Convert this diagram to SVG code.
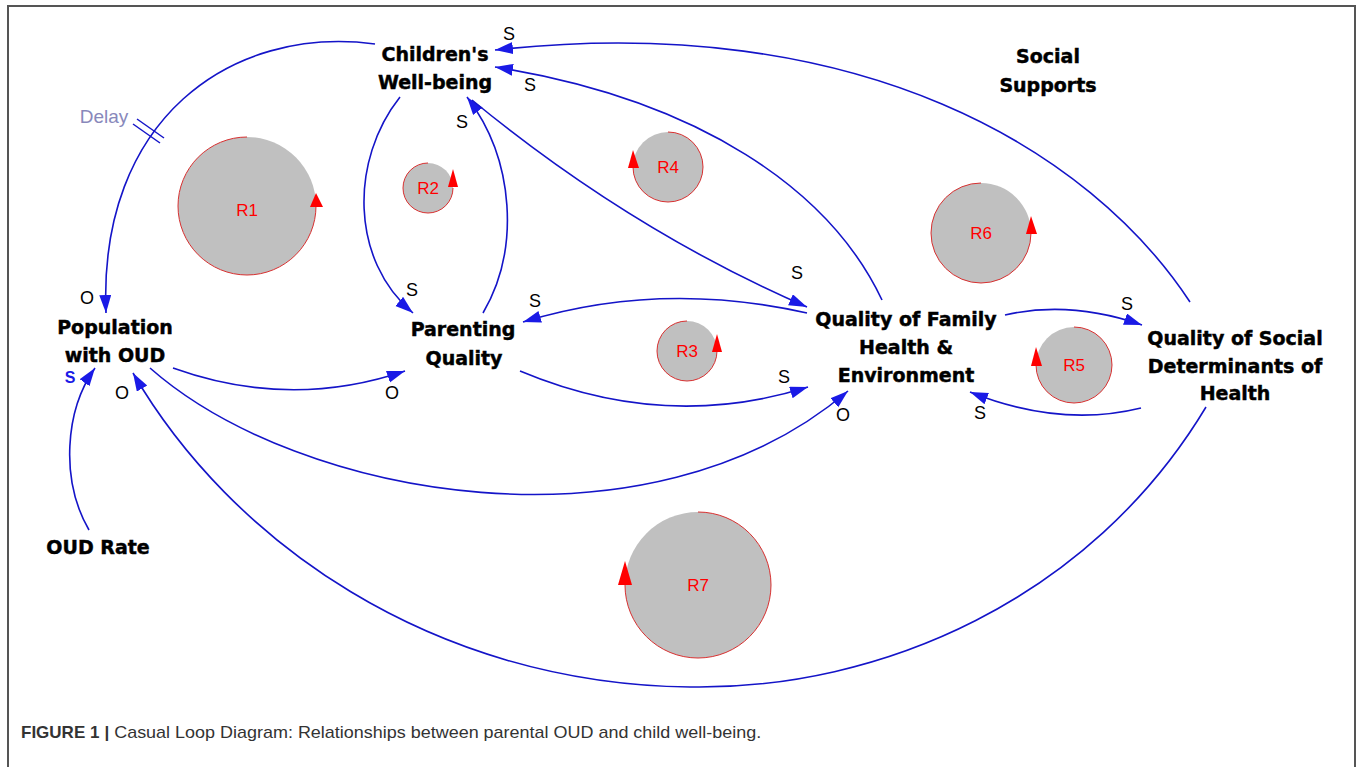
<svg xmlns="http://www.w3.org/2000/svg" width="1358" height="767" viewBox="0 0 1358 767">
<style>
.node{font-family:"DejaVu Sans","Liberation Sans",sans-serif;font-weight:bold;font-size:19px;fill:#000;stroke:#000;stroke-width:0.45px;text-anchor:middle}
.pol{font-family:"Liberation Sans",Arial,sans-serif;font-size:18px;fill:#000;text-anchor:middle}
.lnk{fill:none;stroke:#1414c8;stroke-width:1.6}
.loopc{fill:#c0c0c0;stroke:none}
.looparc{fill:none;stroke:#d83030;stroke-width:1}
.loopl{font-family:"Liberation Sans",Arial,sans-serif;font-size:17px;fill:#ff0000;text-anchor:middle}
.looparrow{fill:#ff0000}
</style>
<defs>
<marker id="ah" markerUnits="userSpaceOnUse" markerWidth="20" markerHeight="14" refX="18" refY="6" orient="auto">
<path d="M0,0 L18,6 L0,12 Z" fill="#1a1ae6"/>
</marker>
</defs>
<rect width="1358" height="767" fill="#fff"/>
<path d="M8,767 L8,6 L1355,6 L1355,767" fill="none" stroke="#555" stroke-width="2"/>

<g id="connectors">
<path class="lnk" marker-end="url(#ah)" d="M375,44 C230,25 98,120 106,313"/>
<line x1="133" y1="124" x2="160" y2="143" stroke="#1414c8" stroke-width="1.5"/>
<line x1="137" y1="119" x2="164" y2="138" stroke="#1414c8" stroke-width="1.5"/>
<path class="lnk" marker-end="url(#ah)" d="M400,97 C350,160 350,260 413,313"/>
<path class="lnk" marker-end="url(#ah)" d="M483,313 C520,250 515,160 467,97"/>
<path class="lnk" marker-end="url(#ah)" d="M472,100 Q630,230 807,307"/>
<path class="lnk" marker-end="url(#ah)" d="M882,300 C830,190 700,100 495,67"/>
<path class="lnk" marker-end="url(#ah)" d="M1190,302 C1090,150 860,10 495,50"/>
<path class="lnk" marker-end="url(#ah)" d="M173,368 Q290,410 405,371"/>
<path class="lnk" marker-end="url(#ah)" d="M520,371 Q665,432 808,387"/>
<path class="lnk" marker-end="url(#ah)" d="M807,313 Q660,280 523,322"/>
<path class="lnk" marker-end="url(#ah)" d="M150,368 C300,500 650,560 848,391"/>
<path class="lnk" marker-end="url(#ah)" d="M1206,407 C1090,600 880,690 690,687 C430,684 230,540 133,373"/>
<path class="lnk" marker-end="url(#ah)" d="M89,530 C60,480 65,410 95,368"/>
<path class="lnk" marker-end="url(#ah)" d="M1005,315 Q1070,300 1142,325"/>
<path class="lnk" marker-end="url(#ah)" d="M1141,408 Q1060,428 970,392"/>
<text x="104" y="123" font-family="Liberation Sans,Arial,sans-serif" font-size="19" fill="#8888bb" text-anchor="middle">Delay</text>
<text class="pol" x="509" y="40">S</text>
<text class="pol" x="530" y="91">S</text>
<text class="pol" x="462" y="128">S</text>
<text class="pol" x="797" y="279">S</text>
<text class="pol" x="412" y="296">S</text>
<text class="pol" x="535" y="307">S</text>
<text class="pol" x="392" y="399">O</text>
<text class="pol" x="784" y="383">S</text>
<text class="pol" x="843" y="421">O</text>
<text class="pol" x="1127" y="310">S</text>
<text class="pol" x="980" y="419">S</text>
<text class="pol" x="87" y="304">O</text>
<text class="pol" x="122" y="399">O</text>
<text x="70" y="383" font-family="Liberation Sans,Arial,sans-serif" font-weight="bold" font-size="16" fill="#1a1ae6" text-anchor="middle">S</text>
</g>

<g id="node-children">
<text class="node" x="435" y="61">Children's</text>
<text class="node" x="435" y="89">Well-being</text>
</g>
<g id="node-social-supports">
<text class="node" x="1048" y="63">Social</text>
<text class="node" x="1048" y="92">Supports</text>
</g>
<g id="node-population">
<text class="node" x="115" y="334">Population</text>
<text class="node" x="115" y="362">with OUD</text>
</g>
<g id="node-parenting">
<text class="node" x="463" y="336">Parenting</text>
<text class="node" x="464" y="365">Quality</text>
</g>
<g id="node-family">
<text class="node" x="906" y="326">Quality of Family</text>
<text class="node" x="906" y="354">Health &amp;</text>
<text class="node" x="906" y="382">Environment</text>
</g>
<g id="node-social-determinants">
<text class="node" x="1235" y="345">Quality of Social</text>
<text class="node" x="1235" y="373">Determinants of</text>
<text class="node" x="1235" y="400">Health</text>
</g>
<g id="node-oud-rate">
<text class="node" x="98" y="554">OUD Rate</text>
</g>

<g id="loop-R1">
<circle class="loopc" cx="247" cy="206" r="69"/>
<path class="looparc" d="M247,137 A69,69 0 1 0 316,206"/>
<path class="looparrow" d="M316,193 L310,207 L323,207 Z"/>
<text class="loopl" x="247" y="216">R1</text>
</g>
<g id="loop-R2">
<circle class="loopc" cx="428" cy="188" r="25"/>
<path class="looparc" d="M428,163 A25,25 0 1 0 453,188"/>
<path class="looparrow" d="M453,169 L448,187 L458,187 Z"/>
<text class="loopl" x="428" y="194">R2</text>
</g>
<g id="loop-R3">
<circle class="loopc" cx="687" cy="351" r="30"/>
<path class="looparc" d="M687,321 A30,30 0 1 0 717,351"/>
<path class="looparrow" d="M717,334 L712,352 L722,352 Z"/>
<text class="loopl" x="687" y="357">R3</text>
</g>
<g id="loop-R4">
<circle class="loopc" cx="668" cy="167" r="35"/>
<path class="looparc" d="M668,132 A35,35 0 1 1 633,167"/>
<path class="looparrow" d="M633,150 L628,168 L639,168 Z"/>
<text class="loopl" x="668" y="173">R4</text>
</g>
<g id="loop-R5">
<circle class="loopc" cx="1074" cy="365" r="38"/>
<path class="looparc" d="M1074,327 A38,38 0 1 1 1036,365"/>
<path class="looparrow" d="M1036,347 L1031,366 L1042,366 Z"/>
<text class="loopl" x="1074" y="371">R5</text>
</g>
<g id="loop-R6">
<circle class="loopc" cx="981" cy="233" r="50"/>
<path class="looparc" d="M981,183 A50,50 0 1 0 1031,233"/>
<path class="looparrow" d="M1031,216 L1026,234 L1037,234 Z"/>
<text class="loopl" x="981" y="239">R6</text>
</g>
<g id="loop-R7">
<circle class="loopc" cx="698" cy="585" r="73"/>
<path class="looparc" d="M698,512 A73,73 0 1 1 625,585"/>
<path class="looparrow" d="M625,561 L618,585 L632,585 Z"/>
<text class="loopl" x="698" y="591">R7</text>
</g>

<g id="caption">
<text x="21" y="738" font-family="Liberation Sans,Arial,sans-serif" font-size="17" fill="#333"><tspan font-weight="bold">FIGURE 1</tspan><tspan dx="5" font-weight="bold">|</tspan><tspan dx="5" textLength="647" lengthAdjust="spacingAndGlyphs">Casual Loop Diagram: Relationships between parental OUD and child well-being.</tspan></text>
</g>
</svg>
